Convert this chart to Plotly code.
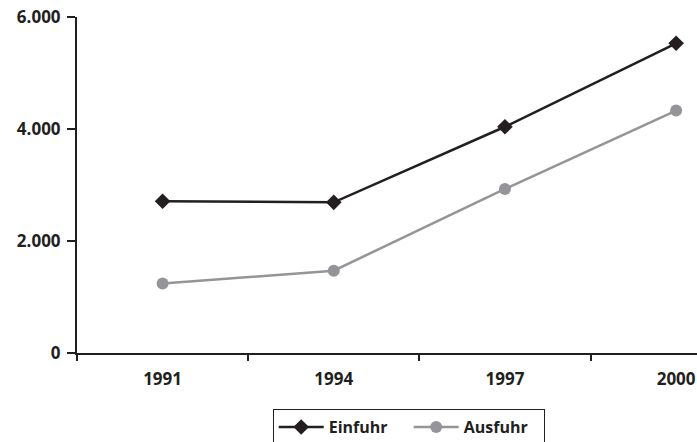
import plotly.graph_objects as go

years = ["1991", "1994", "1997", "2000"]
einfuhr = [2710, 2690, 4040, 5530]
ausfuhr = [1240, 1470, 2930, 4330]
y_ticks = [0, 2000, 4000, 6000]
y_tick_labels = ["0", "2.000", "4.000", "6.000"]

DARK = "#231f20"
GRAY = "#939598"
FONT = "Open Sans"

fig = go.Figure()
fig.add_trace(go.Scatter(
    x=years, y=einfuhr, name="Einfuhr", mode="lines+markers",
    line=dict(color=DARK, width=2.5),
    marker=dict(symbol="diamond", size=12, color=DARK),
    cliponaxis=False,
))
fig.add_trace(go.Scatter(
    x=years, y=ausfuhr, name="Ausfuhr", mode="lines+markers",
    line=dict(color=GRAY, width=2.5),
    marker=dict(symbol="circle", size=12, color=GRAY),
    cliponaxis=False,
))

fig.update_layout(
    width=697, height=442,
    margin=dict(l=76.5, r=0, t=17, b=89, autoexpand=False),
    paper_bgcolor="white", plot_bgcolor="white",
    font=dict(family=FONT, size=16, color=DARK, weight="bold"),
    showlegend=True,
    legend=dict(
        orientation="h", x=0.535, xanchor="center", y=-0.167, yanchor="top",
        bordercolor=DARK, borderwidth=1,
        font=dict(family=FONT, size=16, color=DARK, weight="bold"),
        itemwidth=45, entrywidth=75, entrywidthmode="pixels",
    ),
    xaxis=dict(
        type="category", range=[-0.5, 3.122], automargin=False,
        showline=True, linecolor=DARK, linewidth=2,
        ticks="outside", tickson="boundaries", ticklen=6, tickwidth=2, tickcolor=DARK,
        showgrid=False, zeroline=False, ticklabeloverflow="allow",
        ticklabelstandoff=10,
        tickfont=dict(family=FONT, size=17, color=DARK, weight="bold"),
    ),
    yaxis=dict(
        range=[0, 6000], tickvals=y_ticks, ticktext=y_tick_labels, automargin=False,
        showline=True, linecolor=DARK, linewidth=2,
        ticks="outside", ticklen=8, tickwidth=2, tickcolor=DARK,
        showgrid=False, zeroline=False, ticklabelstandoff=3,
        ticklabeloverflow="allow",
        tickfont=dict(family=FONT, size=17, color=DARK, weight="bold"),
    ),
)

fig.write_html(
    "out.html",
    config={"displayModeBar": False},
    post_script="document.body.style.margin='0';document.body.style.padding='0';",
)
